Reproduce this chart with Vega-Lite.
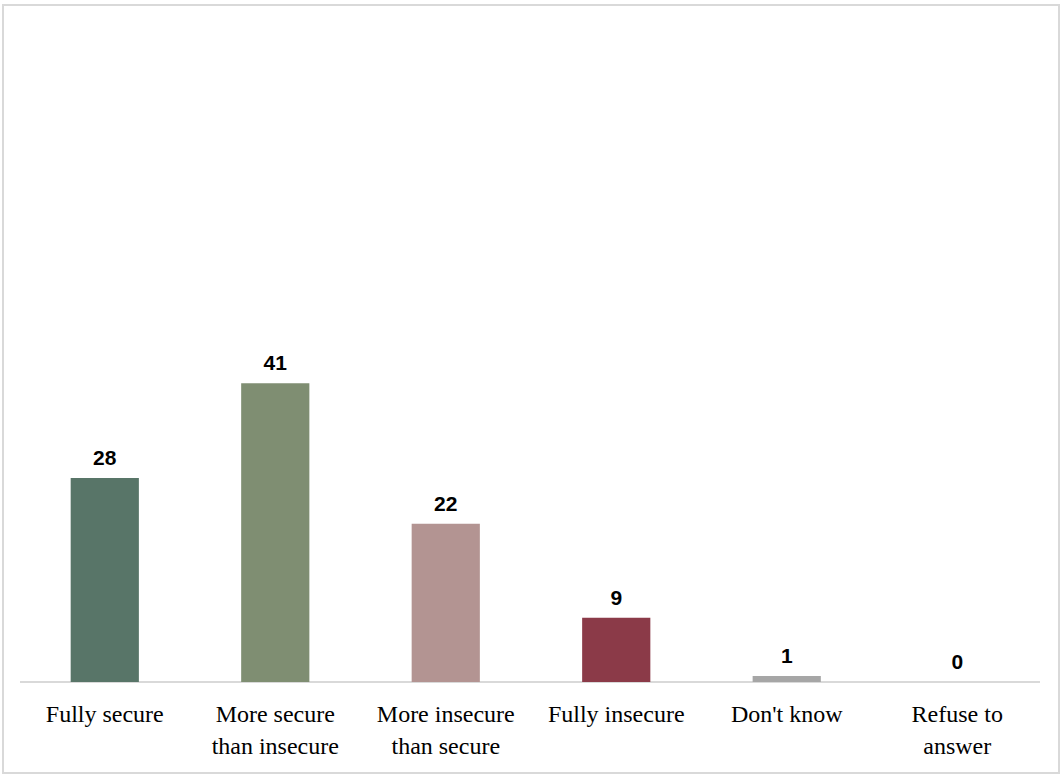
{
  "$schema": "https://vega.github.io/schema/vega-lite/v6.json",
  "width": 1056,
  "height": 768,
  "autosize": {"type": "none"},
  "padding": {"left": 3, "top": 5, "right": 3, "bottom": 4},
  "background": "white",
  "config": {"view": {"stroke": "#d9d9d9", "strokeWidth": 2}},
  "data": {"values": [
    {"category": "Fully secure", "value": 28},
    {"category": "More secure than insecure", "value": 41},
    {"category": "More insecure than secure", "value": 21.7},
    {"category": "Fully insecure", "value": 8.8},
    {"category": "Don't know", "value": 0.8},
    {"category": "Refuse to answer", "value": 0}
  ]},
  "encoding": {
    "x": {
      "field": "category",
      "type": "nominal",
      "title": null,
      "sort": null,
      "scale": {
        "paddingInner": 0,
        "paddingOuter": 0.097
      },
      "axis": {
        "orient": "bottom",
        "offset": -91,
        "domain": false,
        "ticks": false,
        "labelAngle": 0,
        "labelFont": "Liberation Serif",
        "labelFontSize": 24,
        "labelColor": "#000000",
        "labelPadding": 20,
        "labelLineHeight": 32,
        "labelBaseline": "top",
        "labelExpr": "datum.value == 'More secure than insecure' ? ['More secure', 'than insecure'] : datum.value == 'More insecure than secure' ? ['More insecure', 'than secure'] : datum.value == 'Refuse to answer' ? ['Refuse to', 'answer'] : datum.value"
      }
    },
    "y": {
      "field": "value",
      "type": "quantitative",
      "scale": {"domain": [-12.5, 92.9], "nice": false, "zero": false},
      "axis": null
    }
  },
  "layer": [
    {
      "mark": {"type": "rule", "color": "#d9d9d9", "strokeWidth": 1.5},
      "encoding": {
        "x": {"value": 17},
        "x2": {"value": 1037},
        "y": {"datum": 0}
      }
    },
    {
      "mark": {"type": "bar", "width": {"band": 0.4}},
      "encoding": {
        "color": {
          "field": "category",
          "type": "nominal",
          "sort": null,
          "scale": {
            "range": ["#587568", "#7f8e72", "#b39492", "#8b3a48", "#a6a6a6", "#a6a6a6"]
          },
          "legend": null
        },
        "y2": {"datum": 0}
      }
    },
    {
      "mark": {"type": "text", "baseline": "alphabetic", "dy": -13, "font": "Liberation Sans", "fontWeight": "bold", "fontSize": 21, "color": "#000000"},
      "encoding": {"text": {"field": "value", "type": "quantitative", "format": ".0f"}}
    }
  ]
}
